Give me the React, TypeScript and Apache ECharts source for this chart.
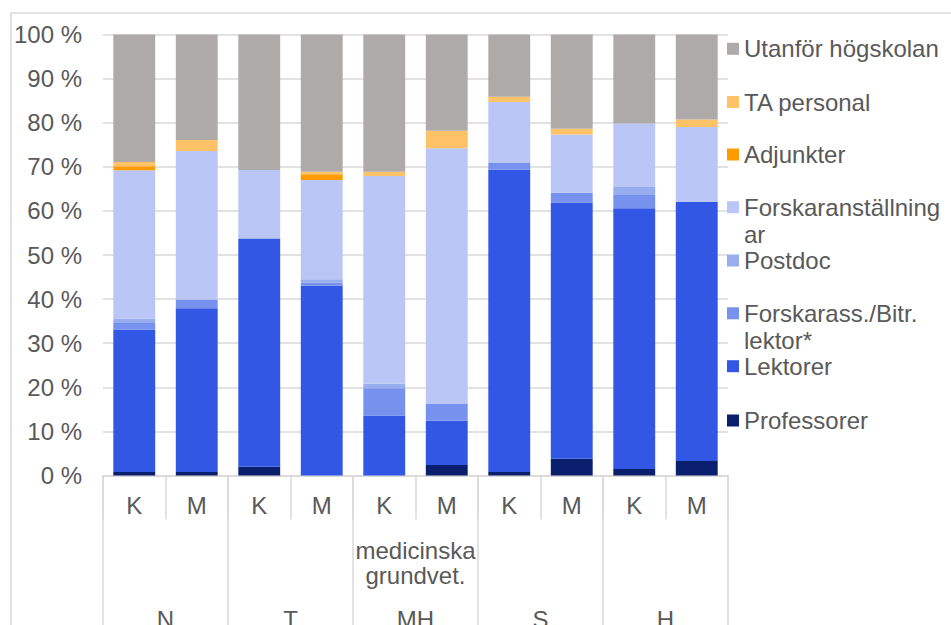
import React, { useEffect, useRef } from 'react';
import * as echarts from 'echarts';

// Categories
const groups = ['N', 'T', 'MH', 'S', 'H'];
const sexes = ['K', 'M'];
const middleLabels = ['', '', 'medicinska\ngrundvet.', '', ''];

// Series values (percent), one per bar: N-K, N-M, T-K, T-M, MH-K, MH-M, S-K, S-M, H-K, H-M
const professorer = [0.8, 0.8, 2.0, 0, 0, 2.4, 0.8, 3.8, 1.5, 3.3];
const lektorer = [32.3, 37.1, 51.6, 43.0, 13.6, 10.0, 68.6, 58.1, 59.1, 58.7];
const forskarass = [1.5, 2.0, 0.2, 0.7, 6.2, 3.9, 1.6, 2.2, 3.0, 0];
const postdoc = [1.0, 0, 0, 0.8, 1.0, 0, 0, 0, 1.8, 0];
const forskaranst = [33.6, 33.7, 15.5, 22.5, 47.1, 57.9, 13.7, 13.2, 14.4, 17.0];
const adjunkter = [0.9, 0, 0, 1.3, 0, 0, 0, 0, 0, 0];
const taPersonal = [1.0, 2.5, 0, 0.6, 1.0, 4.0, 1.2, 1.3, 0, 1.7];
const utanfor = [28.9, 23.9, 30.7, 31.1, 31.1, 21.8, 14.1, 21.4, 20.2, 19.3];

const seriesNames = [
  'Professorer',
  'Lektorer',
  'Forskarass./Bitr. lektor*',
  'Postdoc',
  'Forskaranställningar',
  'Adjunkter',
  'TA personal',
  'Utanför högskolan',
];
const seriesValues = [professorer, lektorer, forskarass, postdoc, forskaranst, adjunkter, taPersonal, utanfor];
const legendLabels: Record<string, string> = {
  'Forskaranställningar': 'Forskaranställning\nar',
  'Forskarass./Bitr. lektor*': 'Forskarass./Bitr.\nlektor*',
};

const colors = ['#0B1F6F', '#3157E4', '#7691EE', '#98ACF0', '#BAC6F6', '#FF9B00', '#FFC266', '#AEAAAA'];

const FONT = 'Liberation Sans, Arial, sans-serif';
const TEXT = '#595959';
const GRID = '#D9D9D9';

export default function App() {
  const ref = useRef<HTMLDivElement>(null);
  useEffect(() => {
    document.body.style.margin = '0';
    const chart = echarts.init(ref.current!, undefined, { renderer: 'svg' });
    const categories = groups.flatMap((g) => sexes.map((s) => `${g}|${s}`));

    // legend marker centers, from top item (Utanför) down to Professorer
    const legendCenters = [48.8, 102, 154.5, 207.2, 260.5, 313.3, 366.2, 420.5];
    const LH = 27;
    const legendOrder = [...seriesNames].reverse();
    const legends = legendOrder.map((name, i) => {
      const label = legendLabels[name] || name;
      const multi = label.includes('\n');
      const c = legendCenters[i];
      // multi-line: prepend an empty line so the first visible line is centred on the marker
      const shown = multi ? '\n' + label : label;
      return {
        show: true,
        data: [name],
        orient: 'vertical',
        left: 727,
        top: multi ? c - 1.5 * LH : c - LH / 2,
        padding: 0,
        itemWidth: 12,
        itemHeight: 12,
        itemGap: 0,
        icon: 'rect',
        formatter: () => shown,
        selectedMode: false,
        textStyle: {
          fontFamily: FONT,
          fontSize: 24,
          color: TEXT,
          lineHeight: LH,
        },
      };
    });

    const option: any = {
      animation: false,
      color: colors,
      textStyle: { fontFamily: FONT },
      graphic: [
        {
          type: 'rect',
          z: -10,
          shape: { x: 11, y: 13, width: 1200, height: 900 },
          style: { fill: 'none', stroke: GRID, lineWidth: 1.5 },
          silent: true,
        },
      ],
      grid: {
        left: 103,
        right: 223,
        top: 34.5,
        bottom: 149.5,
        containLabel: false,
        outerBoundsMode: 'none',
      },
      legend: legends,
      xAxis: [
        {
          type: 'category',
          data: categories,
          position: 'bottom',
          axisLine: { show: true, lineStyle: { color: GRID, width: 1.5 } },
          axisTick: { show: true, interval: 0, length: 44, lineStyle: { color: GRID, width: 1.5 } },
          axisLabel: {
            interval: 0,
            margin: 18,
            fontSize: 24,
            fontFamily: FONT,
            color: TEXT,
            formatter: (v: string) => v.split('|')[1],
          },
        },
        {
          type: 'category',
          data: groups,
          position: 'bottom',
          axisLine: { show: false },
          axisTick: { show: true, interval: 0, length: 160, lineStyle: { color: GRID, width: 1.5 } },
          axisLabel: { interval: 0, margin: 132, fontSize: 24, fontFamily: FONT, color: TEXT },
        },
        {
          type: 'category',
          data: middleLabels,
          position: 'bottom',
          axisLine: { show: false },
          axisTick: { show: false },
          axisLabel: {
            interval: 0,
            margin: 62,
            fontSize: 24,
            lineHeight: 25,
            fontFamily: FONT,
            color: TEXT,
          },
        },
      ],
      yAxis: {
        type: 'value',
        min: 0,
        max: 100,
        interval: 10,
        axisLine: { show: false },
        axisTick: { show: false },
        splitLine: { lineStyle: { color: GRID, width: 1.5 } },
        axisLabel: { formatter: '{value} %', fontSize: 24, fontFamily: FONT, color: TEXT, margin: 21 },
      },
      series: seriesNames.map((name, i) => ({
        name,
        type: 'bar',
        stack: 'total',
        xAxisIndex: 0,
        barCategoryGap: '33%',
        data: seriesValues[i].map((v) => (v === 0 ? '-' : v)),
        itemStyle: { color: colors[i] },
      })),
    };
    chart.setOption(option);
    return () => chart.dispose();
  }, []);
  return <div ref={ref} style={{ width: 951, height: 625, position: 'absolute', left: 0, top: 0 }} />;
}
